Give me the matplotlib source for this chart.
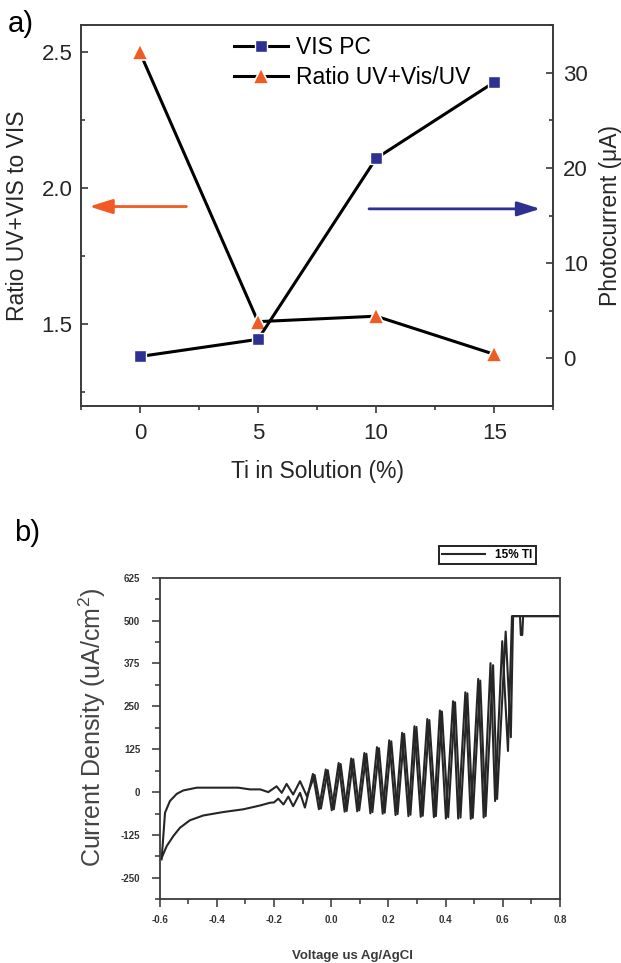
import numpy as np
import matplotlib
matplotlib.use("Agg")
import matplotlib.pyplot as plt
from matplotlib.ticker import MultipleLocator, FixedLocator, FixedFormatter

plt.rcParams["font.family"] = ["Liberation Sans", "DejaVu Sans"]
plt.rcParams["mathtext.fontset"] = "custom"
plt.rcParams["mathtext.rm"] = "Liberation Sans"
plt.rcParams["axes.unicode_minus"] = False

ORANGE = "#f15a22"
BLUE = "#2e3192"
INK = "#262626"

# --- a) photocurrent and UV+Vis/UV ratio vs Ti content
ti_pct = [0, 5, 10, 15]
ratio_uvvis = [2.50, 1.51, 1.53, 1.39]
vis_pc = [0.2, 2.0, 21.0, 29.0]

# --- b) chopped-light voltammogram, 15% Ti (forward + return scan)
fwd_v = [-0.592, -0.575, -0.552, -0.529, -0.494, -0.447, -0.377, -0.307, -0.249, -0.214, -0.200,
         -0.185, -0.167, -0.150, -0.133, -0.109, -0.092, -0.064, -0.043, -0.019, 0.002,
         0.026, 0.047, 0.070, 0.091, 0.116, 0.137, 0.160, 0.180, 0.203, 0.225,
         0.248, 0.270, 0.291, 0.313, 0.336, 0.359, 0.380, 0.401, 0.426, 0.444,
         0.469, 0.488, 0.514, 0.533, 0.557, 0.573, 0.598, 0.618, 0.632, 0.800]
fwd_j = [-190, -157, -128, -104, -82, -68, -58, -50, -39, -31, -30,
         -19, -36, -13, -41, -2, -45, 53, -50, 66, -53,
         85, -57, 98, -56, 114, -62, 131, -63, 151, -67,
         173, -70, 192, -72, 213, -73, 238, -77, 265, -77,
         291, -78, 330, -74, 376, -26, 440, 120, 513, 513]

rev_v = [0.800, 0.671, 0.668, 0.663, 0.660, 0.636, 0.628,
         0.610, 0.580, 0.566, 0.540, 0.521, 0.495, 0.476, 0.452, 0.433, 0.409,
         0.387, 0.366, 0.343, 0.320, 0.298, 0.277, 0.255, 0.232, 0.210, 0.187,
         0.167, 0.144, 0.123, 0.098, 0.077, 0.054, 0.033, 0.009, -0.012, -0.036,
         -0.058, -0.085, -0.109, -0.133, -0.156, -0.173, -0.191, -0.220, -0.248, -0.284,
         -0.325, -0.470, -0.517, -0.540, -0.564, -0.581, -0.593]
rev_j = [513, 513, 458, 458, 513, 513, 160,
         468, -20, 370, -70, 325, -75, 288, -74, 262, -73,
         235, -70, 210, -69, 190, -66, 170, -64, 148, -60,
         128, -58, 112, -53, 96, -55, 82, -50, 64, -48,
         50, -12, 32, -7, 24, -2, 17, 0, 8, 8,
         13, 13, 5, -5, -26, -60, -196]

j_ticks = [-250, -125, 0, 125, 250, 375, 500, 625]
v_ticks = [-0.6, -0.4, -0.2, 0.0, 0.2, 0.4, 0.6, 0.8]
v_labels = ["-0.6", "-0.4", "-0.2", "0.0", "0.2", "0.4", "0.6", "0.8"]

fig = plt.figure(figsize=(6.21, 9.63), dpi=100, facecolor="white")

# ---------------- panel a
ax = fig.add_axes([0.1301, 0.5784, 0.7609, 0.3956])
ax2 = ax.twinx()
l_ratio, = ax.plot(ti_pct, ratio_uvvis, color="black", lw=2.2, marker="^", ms=11,
                   mfc=ORANGE, mec="white", mew=1.2, zorder=3,
                   label="Ratio UV+Vis/UV")
l_pc, = ax2.plot(ti_pct, vis_pc, color="black", lw=2.2, marker="s", ms=8,
                 mfc=BLUE, mec="white", mew=1.0, zorder=3, label="VIS PC")

ax.set_xlim(-2.5, 17.5)
ax.set_ylim(1.2, 2.6)
ax2.set_ylim(-5, 35)
ax.xaxis.set_major_locator(FixedLocator([0, 5, 10, 15]))
ax.xaxis.set_minor_locator(MultipleLocator(2.5))
ax.yaxis.set_major_locator(FixedLocator([1.5, 2.0, 2.5]))
ax.yaxis.set_minor_locator(MultipleLocator(0.25))
ax2.yaxis.set_major_locator(FixedLocator([0, 10, 20, 30]))
ax2.yaxis.set_minor_locator(MultipleLocator(5))

ax.tick_params(axis="x", which="both", direction="out", labelsize=16, pad=7,
               colors=INK, width=1.1)
ax.tick_params(axis="x", which="major", length=5)
ax.tick_params(axis="x", which="minor", length=3)
ax.tick_params(axis="y", which="both", direction="in", labelsize=16, pad=6,
               colors=INK, width=1.1)
ax.tick_params(axis="y", which="major", length=5)
ax.tick_params(axis="y", which="minor", length=3)
ax2.tick_params(axis="y", which="both", direction="in", labelsize=16, pad=7,
                colors=INK, width=1.1)
ax2.tick_params(axis="y", which="major", length=5)
ax2.tick_params(axis="y", which="minor", length=3)
for a in (ax, ax2):
    for sp in a.spines.values():
        sp.set_color("#3a3a3a")
        sp.set_linewidth(1.2)

ax.set_xlabel("Ti in Solution (%)", fontsize=16.5, color=INK, labelpad=12)
ax.set_ylabel("Ratio UV+VIS to VIS", fontsize=16.5, color=INK, labelpad=9)
ax2.set_ylabel("Photocurrent (\u03bcA)", fontsize=16.5, color=INK, labelpad=8)

ax2.legend(handles=[l_pc, l_ratio], loc="upper left", bbox_to_anchor=(0.3236, 0.972),
           frameon=False, fontsize=16.5, handlelength=2.35, handletextpad=0.35,
           labelspacing=0.32, borderpad=0, borderaxespad=0, numpoints=1)

ax.annotate("", xy=(-2.14, 1.933), xytext=(1.97, 1.933),
            arrowprops=dict(arrowstyle="-|>,head_length=0.7,head_width=0.22",
                            color=ORANGE, lw=2.0, mutation_scale=20,
                            shrinkA=0, shrinkB=0))
ax2.annotate("", xy=(16.95, 15.7), xytext=(9.7, 15.7),
             arrowprops=dict(arrowstyle="-|>,head_length=0.7,head_width=0.22",
                             color=BLUE, lw=2.0, mutation_scale=20,
                             shrinkA=0, shrinkB=0))

fig.text(8 / 621, 1 - 24 / 963, "a)", fontsize=21, color="black", va="center")

# ---------------- panel b
axb = fig.add_axes([0.2570, 0.0661, 0.6448, 0.3340])
l_fwd, = axb.plot(fwd_v, fwd_j, color="#262626", lw=1.5, solid_joinstyle="round",
                  label="15% TI")
axb.plot(rev_v, rev_j, color="#262626", lw=1.5, solid_joinstyle="round")
axb.set_xlim(-0.6, 0.8)
axb.set_ylim(-312.5, 625)
axb.xaxis.set_major_locator(FixedLocator(v_ticks))
axb.xaxis.set_major_formatter(FixedFormatter(v_labels))
axb.xaxis.set_minor_locator(MultipleLocator(0.1))
axb.yaxis.set_major_locator(FixedLocator(j_ticks))
axb.yaxis.set_major_formatter(FixedFormatter([str(t) for t in j_ticks]))
axb.yaxis.set_minor_locator(MultipleLocator(62.5))
axb.tick_params(which="both", direction="out", colors="#333333", width=1.1,
                labelsize=7)
axb.tick_params(which="major", length=5.5)
axb.tick_params(which="minor", length=3.5)
axb.tick_params(axis="y", pad=8.5)
axb.tick_params(axis="x", pad=5.5)
for lab in axb.get_xticklabels() + axb.get_yticklabels():
    lab.set_fontweight("bold")
for sp in axb.spines.values():
    sp.set_color("#3a3a3a")
    sp.set_linewidth(1.3)

fig.text(92 / 621, 1 - 727 / 963, "Current Density (uA/cm$^2$)", rotation=90,
         fontsize=18, color="#444444", ha="center", va="center")
fig.text(352 / 621, 1 - 956 / 963, "Voltage us Ag/AgCl", fontsize=9.5,
         fontweight="bold", color="#3a3a3a", ha="center", va="center")

leg = fig.legend(handles=[l_fwd], loc="center", bbox_to_anchor=(487.5 / 621, 1 - 555 / 963),
                 handlelength=3.6, handletextpad=0.9, borderpad=0.25,
                 fancybox=False, framealpha=1, edgecolor="#222222",
                 prop={"weight": "bold", "size": 8.5})
leg.get_frame().set_linewidth(1.4)

fig.text(14 / 621, 1 - 533 / 963, "b)", fontsize=21, color="black", va="center")

fig.savefig("out.png", dpi=100, facecolor="white")
